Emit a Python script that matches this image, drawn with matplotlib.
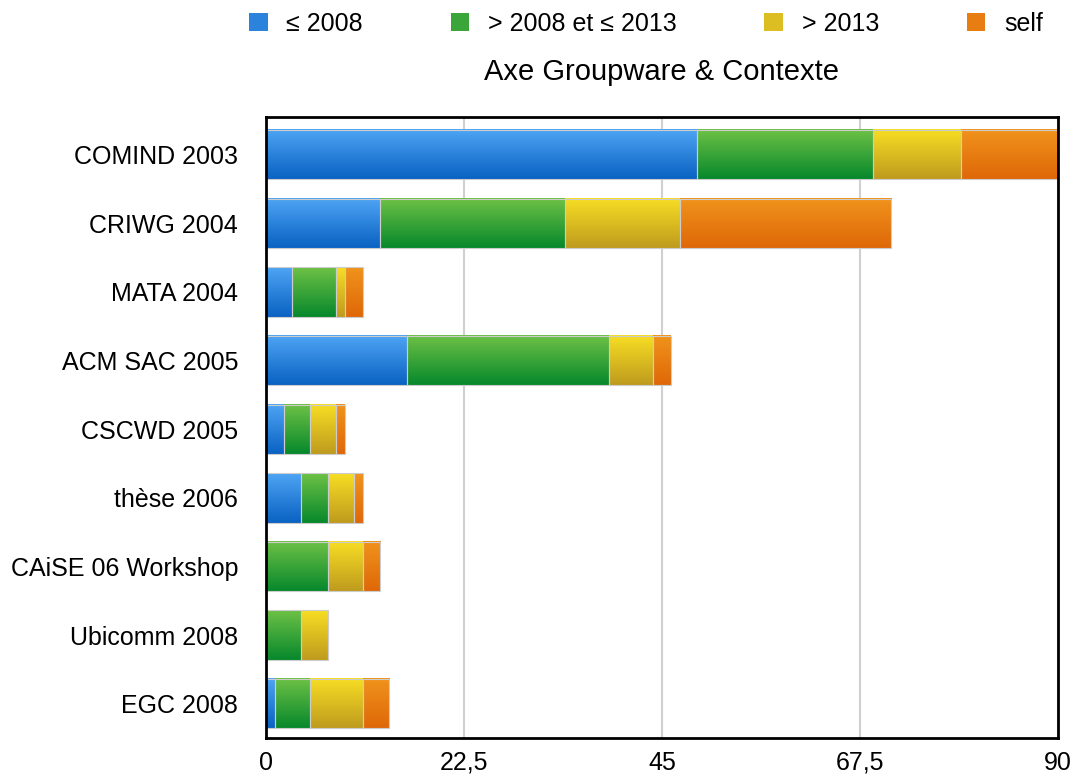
import numpy as np
import matplotlib
matplotlib.use("Agg")
import matplotlib.pyplot as plt
from matplotlib.colors import to_rgb
from matplotlib.patches import Patch

plt.rcParams['font.family'] = ['Liberation Sans', 'DejaVu Sans']

categories = ["COMIND 2003", "CRIWG 2004", "MATA 2004", "ACM SAC 2005", "CSCWD 2005",
              "thèse 2006", "CAiSE 06 Workshop", "Ubicomm 2008", "EGC 2008"]
series_names = ["≤ 2008", "> 2008 et ≤ 2013", "> 2013", "self"]
le_2008 = [49, 13, 3, 16, 2, 4, 0, 0, 1]
gt2008_le2013 = [20, 21, 5, 23, 3, 3, 7, 4, 4]
gt_2013 = [10, 13, 1, 5, 3, 3, 4, 3, 6]
self_cit = [11, 24, 2, 2, 1, 1, 2, 0, 3]
xticks = [0, 22.5, 45, 67.5, 90]
xtick_labels = ["0", "22,5", "45", "67,5", "90"]
title = "Axe Groupware & Contexte"

series = [le_2008, gt2008_le2013, gt_2013, self_cit]
grad_top = ["#4ea4f4", "#6dc145", "#f7de24", "#f0931c"]
grad_bot = ["#0a62c2", "#07882c", "#bf9b1e", "#df6808"]
mid = ["#2b83dc", "#3aa538", "#dcbd22", "#e87e12"]

fig = plt.figure(figsize=(10.77, 7.76), dpi=100)
ax = fig.add_axes([266/1077, 38/776, 792/1077, 621/776])

n = len(categories)
y = np.arange(n)[::-1].astype(float)
h = 0.72
left = np.zeros(n)
for k, vals in enumerate(series):
    vals = np.array(vals, dtype=float)
    bars = ax.barh(y, vals, height=h, left=left, facecolor='none',
                   edgecolor='#cccccc', linewidth=0.8, zorder=3)
    c0 = np.array(to_rgb(grad_top[k])); c1 = np.array(to_rgb(grad_bot[k]))
    t = np.linspace(0, 1, 64)[:, None, None]
    grad = c0[None, None, :] * (1 - t) + c1[None, None, :] * t
    for b in bars:
        if b.get_width() <= 0:
            continue
        x0, y0 = b.get_x(), b.get_y()
        x1, y1 = x0 + b.get_width(), y0 + b.get_height()
        ax.imshow(grad, extent=(x0, x1, y0, y1), origin='upper',
                  aspect='auto', zorder=2, interpolation='bilinear')
    left = left + vals

ax.set_xlim(0, 90)
ax.set_ylim(-0.5, 8.55)
ax.set_xticks(xticks)
ax.set_xticklabels(xtick_labels)
ax.set_yticks(y)
ax.set_yticklabels(categories)
ax.tick_params(axis='both', length=0, labelsize=18)
ax.tick_params(axis='y', pad=20)
ax.tick_params(axis='x', pad=9)
ax.xaxis.grid(True, color='#d0d0d0', linewidth=1.5, zorder=0)
ax.set_axisbelow(True)
for s in ax.spines.values():
    s.set_linewidth(2)
    s.set_color('black')
    s.set_zorder(5)

fig.text(662/1077, 1 - 72/776, title, ha='center', va='center', fontsize=21)

handles = [Patch(facecolor=mid[k], edgecolor='none') for k in range(4)]
fig.legend(handles, series_names, loc='center', bbox_to_anchor=(646/1077, 1 - 24/776),
           ncol=4, frameon=False, fontsize=18, handlelength=0.75, handleheight=0.75,
           handletextpad=0.75, columnspacing=3.5, borderaxespad=0)

fig.savefig("out.png", dpi=100)
